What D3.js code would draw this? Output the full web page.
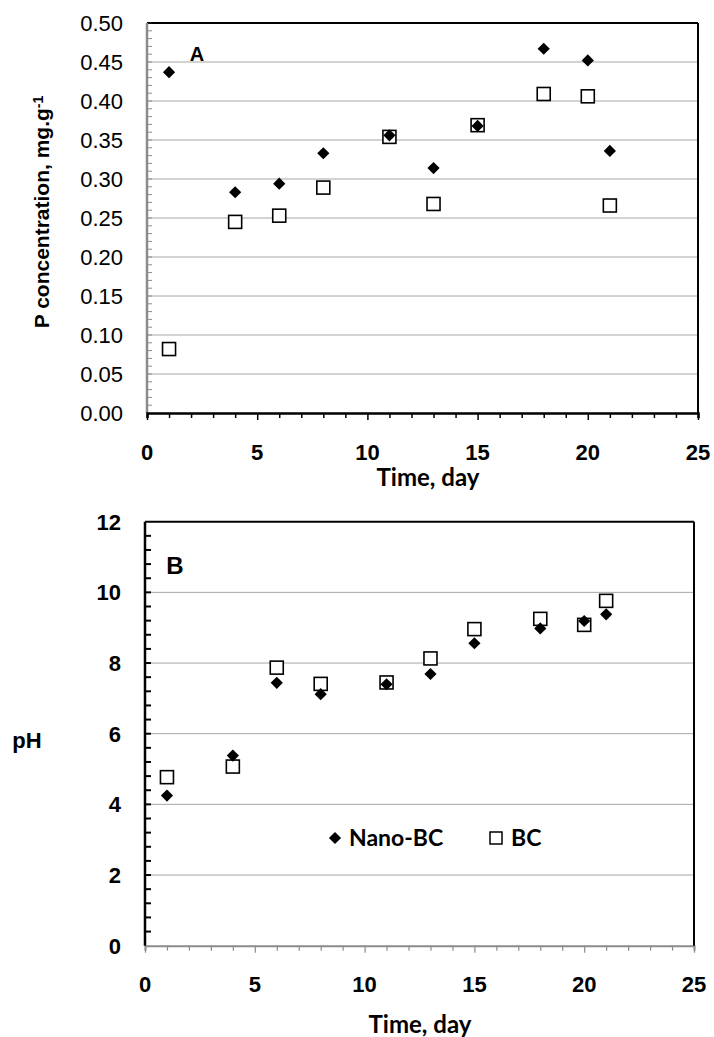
<!DOCTYPE html>
<html>
<head>
<meta charset="utf-8">
<script src="https://cdn.jsdelivr.net/npm/d3@7"></script>
<style>
  body { margin: 0; background: #fff; }
  svg text { fill: #000; }
</style>
</head>
<body>
<div id="chart"></div>
<script>
// data
var days = [1, 4, 6, 8, 11, 13, 15, 18, 20, 21];
var pNano = [0.437, 0.283, 0.294, 0.333, 0.356, 0.314, 0.368, 0.467, 0.452, 0.336];
var pBC = [0.082, 0.245, 0.253, 0.289, 0.354, 0.268, 0.369, 0.409, 0.406, 0.266];
var phNano = [4.25, 5.38, 7.44, 7.12, 7.40, 7.69, 8.56, 8.98, 9.19, 9.38];
var phBC = [4.77, 5.07, 7.87, 7.41, 7.45, 8.13, 8.96, 9.25, 9.08, 9.76];
var xTicks = [0, 5, 10, 15, 20, 25];
var pTicks = [0, 0.05, 0.10, 0.15, 0.20, 0.25, 0.30, 0.35, 0.40, 0.45, 0.50];
var phTicks = [0, 2, 4, 6, 8, 10, 12];
var legendNames = ["Nano-BC", "BC"];

var W = 714, H = 1037;
var svg = d3.select("#chart").append("svg").attr("width", W).attr("height", H);

var grid = "#a6a6a6", axisGrey = "#8c8c8c";
var calibri = "Lato, 'Open Sans', sans-serif";
var arial = "'Liberation Sans', Arial, sans-serif";

var diamond = d3.symbol().type(d3.symbolDiamond2).size(95);

function drawMarkers(g, x, y, vals, kind) {
  var pts = days.map(function (d, i) { return {d: d, v: vals[i]}; });
  if (kind == "square") {
    g.selectAll(".sq").data(pts).enter().append("rect")
      .attr("class", "sq")
      .attr("x", function (p) { return x(p.d) - 6.5; })
      .attr("y", function (p) { return y(p.v) - 6.5; })
      .attr("width", 13).attr("height", 13)
      .attr("fill", "#fff").attr("stroke", "#000").attr("stroke-width", 1.6);
  } else {
    g.selectAll(".dm").data(pts).enter().append("path")
      .attr("class", "dm")
      .attr("transform", function (p) { return "translate(" + x(p.d) + "," + y(p.v) + ")"; })
      .attr("d", diamond).attr("fill", "#000");
  }
}

// ---------- panel A ----------
var xA = d3.scaleLinear().domain([0, 25]).range([147, 698]);
var yA = d3.scaleLinear().domain([0, 0.5]).range([413, 23]);
var gA = svg.append("g");

gA.selectAll(".grid").data(pTicks.slice(1, -1)).enter().append("line")
  .attr("x1", xA(0)).attr("x2", xA(25))
  .attr("y1", function (d) { return yA(d); }).attr("y2", function (d) { return yA(d); })
  .attr("stroke", grid).attr("stroke-width", 1);

// minor ticks on left axis (inside, grey)
gA.selectAll(".ym").data(d3.range(1, 50)).enter().append("line")
  .attr("x1", xA(0)).attr("x2", xA(0) + 5)
  .attr("y1", function (d) { return yA(d / 100); }).attr("y2", function (d) { return yA(d / 100); })
  .attr("stroke", axisGrey).attr("stroke-width", 1);

// frame
gA.append("line").attr("x1", xA(0)).attr("x2", xA(25)).attr("y1", yA(0.5)).attr("y2", yA(0.5))
  .attr("stroke", "#000").attr("stroke-width", 2);
gA.append("line").attr("x1", xA(25)).attr("x2", xA(25)).attr("y1", yA(0.5)).attr("y2", yA(0))
  .attr("stroke", "#000").attr("stroke-width", 2);
gA.append("line").attr("x1", xA(0)).attr("x2", xA(0)).attr("y1", yA(0.5)).attr("y2", yA(0))
  .attr("stroke", axisGrey).attr("stroke-width", 2.5);

// x axis with day ticks
var axA = d3.axisBottom(xA).tickValues(d3.range(0, 26)).tickSize(5).tickFormat("");
var axAg = gA.append("g").attr("transform", "translate(0," + yA(0) + ")").call(axA);
axAg.select(".domain").attr("stroke", "#000").attr("stroke-width", 2.5);
axAg.selectAll(".tick line").attr("stroke", "#000").attr("stroke-width", 1.5)
  .attr("y2", function (d) { return d % 5 == 0 ? 7 : 5; });

gA.selectAll(".xl").data(xTicks).enter().append("text")
  .attr("x", function (d) { return xA(d); }).attr("y", 452)
  .attr("text-anchor", "middle").attr("dy", "0.35em")
  .style("font", "bold 22px " + arial).text(function (d) { return d; });

gA.selectAll(".yl").data(pTicks).enter().append("text")
  .attr("x", 123).attr("y", function (d) { return yA(d); })
  .attr("text-anchor", "end").attr("dy", "0.36em")
  .style("font", "22px " + arial).text(function (d) { return d3.format(".2f")(d); });

gA.append("text").attr("x", 428).attr("y", 478).attr("text-anchor", "middle").attr("dy", "0.35em")
  .style("font", "bold 24px " + calibri).text("Time, day");

var ylabA = gA.append("text").attr("transform", "translate(42,212) rotate(-90)")
  .attr("text-anchor", "middle").attr("dy", "0.35em")
  .style("font", "bold 21px " + arial);
ylabA.append("tspan").text("P concentration, mg.g");
ylabA.append("tspan").attr("dy", "-0.45em").style("font-size", "14px").text("-1");

gA.append("text").attr("x", 197).attr("y", 54).attr("text-anchor", "middle").attr("dy", "0.35em")
  .style("font", "bold 20px " + arial).text("A");

drawMarkers(gA.append("g"), xA, yA, pBC, "square");
drawMarkers(gA.append("g"), xA, yA, pNano, "diamond");

// ---------- panel B ----------
var xB = d3.scaleLinear().domain([0, 25]).range([145, 694]);
var yB = d3.scaleLinear().domain([0, 12]).range([945.7, 521.7]);
var gB = svg.append("g");

gB.selectAll(".grid").data(phTicks.slice(1, -1)).enter().append("line")
  .attr("x1", xB(0)).attr("x2", xB(25))
  .attr("y1", function (d) { return yB(d); }).attr("y2", function (d) { return yB(d); })
  .attr("stroke", grid).attr("stroke-width", 1);

// x axis, grey
var axB = d3.axisBottom(xB).tickValues(d3.range(0, 26)).tickSize(5).tickFormat("");
var axBg = gB.append("g").attr("transform", "translate(0," + yB(0) + ")").call(axB);
axBg.select(".domain").attr("stroke", axisGrey).attr("stroke-width", 2);
axBg.selectAll(".tick line").attr("stroke", axisGrey).attr("stroke-width", 1.2)
  .attr("y2", function (d) { return d % 5 == 0 ? 7 : 5; });

// frame
gB.append("line").attr("x1", xB(0)).attr("x2", xB(25)).attr("y1", yB(12)).attr("y2", yB(12))
  .attr("stroke", "#000").attr("stroke-width", 2);
gB.append("line").attr("x1", xB(25)).attr("x2", xB(25)).attr("y1", yB(12)).attr("y2", yB(0))
  .attr("stroke", "#000").attr("stroke-width", 2);

// left axis black with inside minor ticks every 0.4
gB.selectAll(".ym").data(d3.range(1, 30)).enter().append("line")
  .attr("x1", xB(0)).attr("x2", xB(0) + 6)
  .attr("y1", function (d) { return yB(d * 0.4); }).attr("y2", function (d) { return yB(d * 0.4); })
  .attr("stroke", "#000").attr("stroke-width", 2);
gB.append("line").attr("x1", xB(0)).attr("x2", xB(0)).attr("y1", yB(12)).attr("y2", yB(0))
  .attr("stroke", "#000").attr("stroke-width", 2.5);

gB.selectAll(".xl").data(xTicks).enter().append("text")
  .attr("x", function (d) { return xB(d); }).attr("y", 984)
  .attr("text-anchor", "middle").attr("dy", "0.35em")
  .style("font", "bold 22px " + arial).text(function (d) { return d; });

gB.selectAll(".yl").data(phTicks).enter().append("text")
  .attr("x", 121).attr("y", function (d) { return yB(d); })
  .attr("text-anchor", "end").attr("dy", "0.36em")
  .style("font", "bold 22px " + arial).text(function (d) { return d; });

gB.append("text").attr("x", 420).attr("y", 1025).attr("text-anchor", "middle").attr("dy", "0.35em")
  .style("font", "bold 24px " + calibri).text("Time, day");

gB.append("text").attr("x", 27).attr("y", 740).attr("text-anchor", "middle").attr("dy", "0.35em")
  .style("font", "bold 22px " + arial).text("pH");

gB.append("text").attr("x", 175).attr("y", 566).attr("text-anchor", "middle").attr("dy", "0.35em")
  .style("font", "bold 24px " + arial).text("B");

drawMarkers(gB.append("g"), xB, yB, phBC, "square");
drawMarkers(gB.append("g"), xB, yB, phNano, "diamond");

// legend
var leg = gB.append("g");
leg.append("path").attr("transform", "translate(335,838)").attr("d", diamond).attr("fill", "#000");
leg.append("text").attr("x", 349).attr("y", 838).attr("dy", "0.35em")
  .style("font", "bold 23px " + calibri).text(legendNames[0]);
leg.append("rect").attr("x", 490).attr("y", 832).attr("width", 12).attr("height", 12)
  .attr("fill", "#fff").attr("stroke", "#000").attr("stroke-width", 1.5);
leg.append("text").attr("x", 511).attr("y", 838).attr("dy", "0.35em")
  .style("font", "bold 23px " + calibri).text(legendNames[1]);
</script>
</body>
</html>
